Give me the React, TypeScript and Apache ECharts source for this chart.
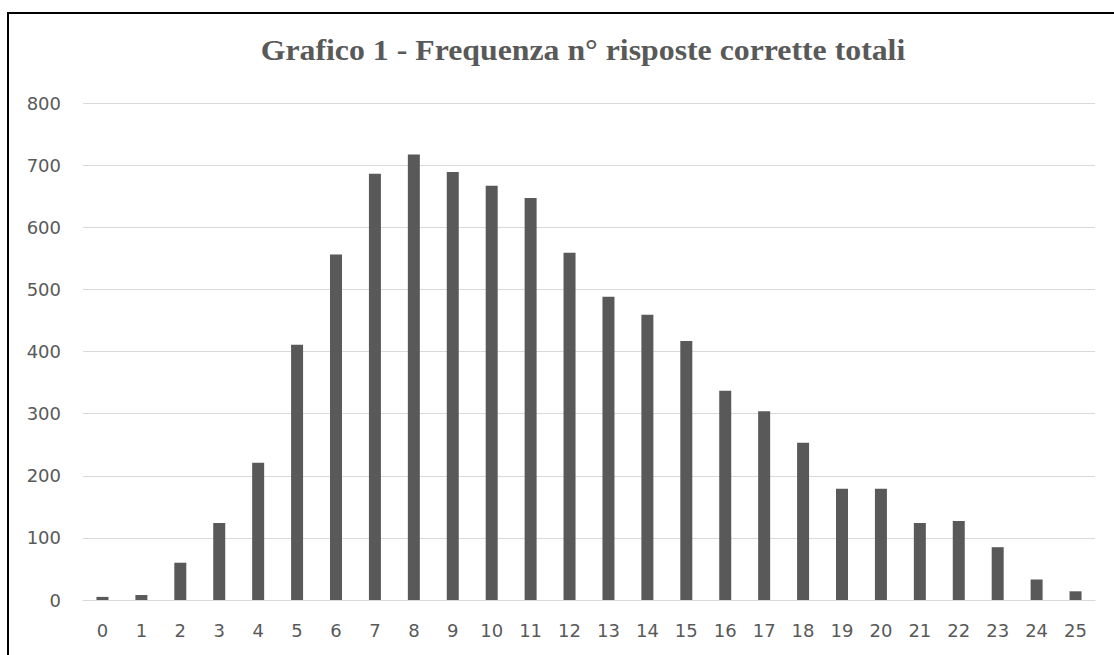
import React, { useEffect, useRef } from "react";
import * as echarts from "echarts";

const categories = ["0","1","2","3","4","5","6","7","8","9","10","11","12","13","14","15","16","17","18","19","20","21","22","23","24","25"];
const frequencies = [5, 8, 60, 124, 221, 411, 556, 686, 717, 689, 667, 647, 559, 488, 459, 417, 337, 304, 253, 179, 179, 124, 127, 85, 33, 14];
const yTicks = [0, 100, 200, 300, 400, 500, 600, 700, 800];
const titleText = "Grafico 1 - Frequenza n° risposte corrette totali";

export default function App() {
  const ref = useRef<HTMLDivElement>(null);
  useEffect(() => {
    document.body.style.margin = "0";
    const chart = echarts.init(ref.current!, null, { renderer: "svg" });
    chart.setOption({
      animation: false,
      backgroundColor: "#ffffff",
      graphic: [
        {
          type: "rect",
          shape: { x: 8, y: 13, width: 1200, height: 800 },
          style: { fill: "none", stroke: "#000000", lineWidth: 2 },
          z: 10,
        },
        {
          type: "text",
          x: 583,
          y: 50,
          scaleX: 1.06,
          style: {
            text: titleText,
            font: "bold 30px 'Liberation Serif', serif",
            fill: "#595959",
            textAlign: "center",
            textVerticalAlign: "middle",
          },
        },
      ],
      grid: { left: 83, right: 1114 - 1095, top: 103, bottom: 655 - 600, containLabel: false },
      xAxis: {
        type: "category",
        data: categories,
        axisLine: { show: true, lineStyle: { color: "#d9d9d9", width: 1 } },
        axisTick: { show: false },
        axisLabel: { color: "#595959", fontSize: 18, fontFamily: "DejaVu Sans", margin: 21 },
      },
      yAxis: {
        type: "value",
        min: yTicks[0],
        max: yTicks[yTicks.length - 1],
        interval: 100,
        axisLine: { show: false },
        axisTick: { show: false },
        splitLine: { lineStyle: { color: "#d9d9d9", width: 1 } },
        axisLabel: { color: "#595959", fontSize: 18, fontFamily: "DejaVu Sans", margin: 22 },
      },
      series: [
        {
          type: "bar",
          data: frequencies,
          barWidth: 12,
          itemStyle: { color: "#595959" },
        },
      ],
    });
    return () => chart.dispose();
  }, []);
  return <div ref={ref} style={{ position: "absolute", left: 0, top: 0, width: 1114, height: 655 }} />;
}
